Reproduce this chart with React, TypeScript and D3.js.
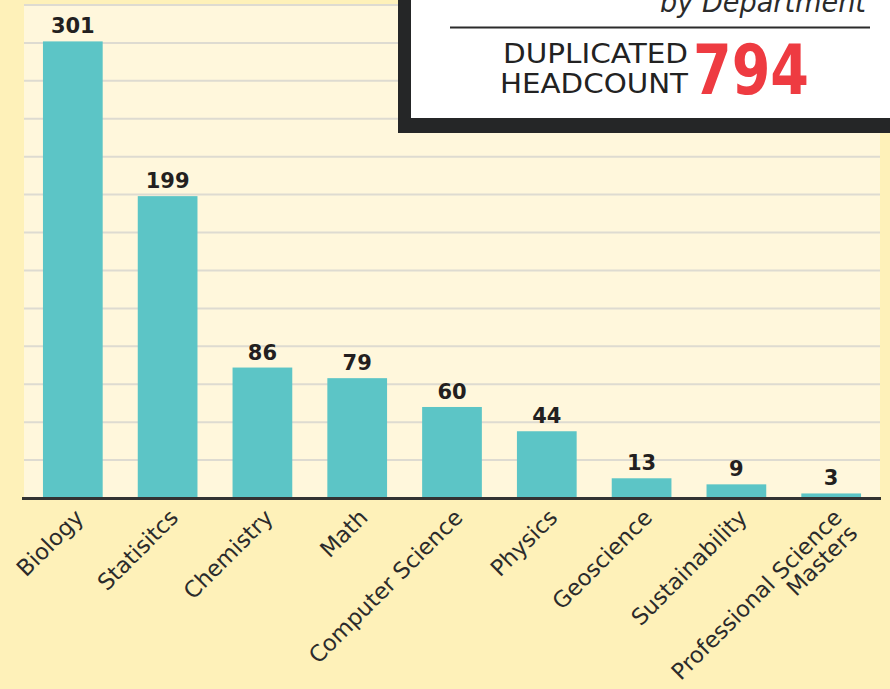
import React from "react";
import * as d3 from "d3";

const categories = [
  "Biology",
  "Statisitcs",
  "Chemistry",
  "Math",
  "Computer Science",
  "Physics",
  "Geoscience",
  "Sustainability",
  "Professional Science|Masters",
];
const values = [301, 199, 86, 79, 60, 44, 13, 9, 3];
const yTicks = [0, 25, 50, 75, 100, 125, 150, 175, 200, 225, 250, 275, 300, 325];
const subtitle = "by Department";
const totalLabel = ["DUPLICATED", "HEADCOUNT"];
const totalValue = "794";

const W = 890;
const H = 689;
const plot = { left: 24, right: 880, top: 5, bottom: 498 };

export default function App() {
  const x = d3
    .scaleBand<string>()
    .domain(categories)
    .range([plot.left, plot.right])
    .paddingInner(0.37)
    .paddingOuter(0.2);
  const y = d3.scaleLinear().domain([0, 325]).range([plot.bottom, plot.top]);

  const labelFont = "'DejaVu Sans', sans-serif";

  return (
    <svg
      width={W}
      height={H}
      style={{ position: "absolute", left: 0, top: 0 }}
      xmlns="http://www.w3.org/2000/svg"
    >
      <rect x={0} y={0} width={W} height={H} fill="#FEF1B9" />
      <rect
        x={plot.left}
        y={plot.top}
        width={plot.right - plot.left}
        height={plot.bottom - plot.top}
        fill="#FFF7DC"
      />
      {yTicks
        .filter((t) => t > 0)
        .map((t) => (
          <line
            key={t}
            x1={plot.left}
            x2={plot.right}
            y1={y(t)}
            y2={y(t)}
            stroke="#DEDBD1"
            strokeWidth={2}
          />
        ))}
      {categories.map((c, i) => (
        <rect
          key={c}
          x={x(c)}
          y={y(values[i])}
          width={x.bandwidth()}
          height={y(0) - y(values[i])}
          fill="#5CC5C6"
        />
      ))}
      {categories.map((c, i) => (
        <text
          key={"v" + c}
          x={(x(c) as number) + x.bandwidth() / 2}
          y={y(values[i]) - 8}
          textAnchor="middle"
          fontFamily={labelFont}
          fontWeight="bold"
          fontSize={21}
          fill="#231F20"
        >
          {values[i]}
        </text>
      ))}
      <line
        x1={22}
        x2={881}
        y1={plot.bottom + 0.5}
        y2={plot.bottom + 0.5}
        stroke="#333333"
        strokeWidth={3}
      />
      {categories.map((c) => {
        const cx = (x(c) as number) + x.bandwidth() / 2 + 12;
        const lines = c.split("|");
        return (
          <text
            key={"l" + c}
            transform={`translate(${cx},${plot.bottom + 21}) rotate(-45)`}
            textAnchor="end"
            fontFamily={labelFont}
            fontSize={22.5}
            fill="#2B2B2B"
          >
            {lines.map((ln, j) => (
              <tspan key={j} x={0} dy={j === 0 ? 0 : 22}>
                {ln}
              </tspan>
            ))}
          </text>
        );
      })}

      {/* title box */}
      <rect x={398} y={-60} width={520} height={193} fill="#252627" />
      <rect x={411} y={-60} width={520} height={178} fill="#FFFFFF" />
      <text
        x={866}
        y={12}
        textAnchor="end"
        fontFamily={labelFont}
        fontStyle="italic"
        fontSize={28}
        fill="#2B2B2B"
        textLength={206}
        lengthAdjust="spacingAndGlyphs"
      >
        {subtitle}
      </text>
      <line x1={450} x2={870} y1={27.5} y2={27.5} stroke="#2B2B2B" strokeWidth={2} />
      <text
        x={688}
        y={63}
        textAnchor="end"
        fontFamily={labelFont}
        fontSize={27}
        fill="#222222"
        textLength={185}
        lengthAdjust="spacingAndGlyphs"
      >
        {totalLabel[0]}
      </text>
      <text
        x={688}
        y={93}
        textAnchor="end"
        fontFamily={labelFont}
        fontSize={27}
        fill="#222222"
        textLength={188}
        lengthAdjust="spacingAndGlyphs"
      >
        {totalLabel[1]}
      </text>
      <text
        x={693}
        y={94}
        fontFamily={labelFont}
        fontWeight="bold"
        fontSize={70}
        fill="#EE3B41"
        textLength={116}
        lengthAdjust="spacingAndGlyphs"
      >
        {totalValue}
      </text>
    </svg>
  );
}
